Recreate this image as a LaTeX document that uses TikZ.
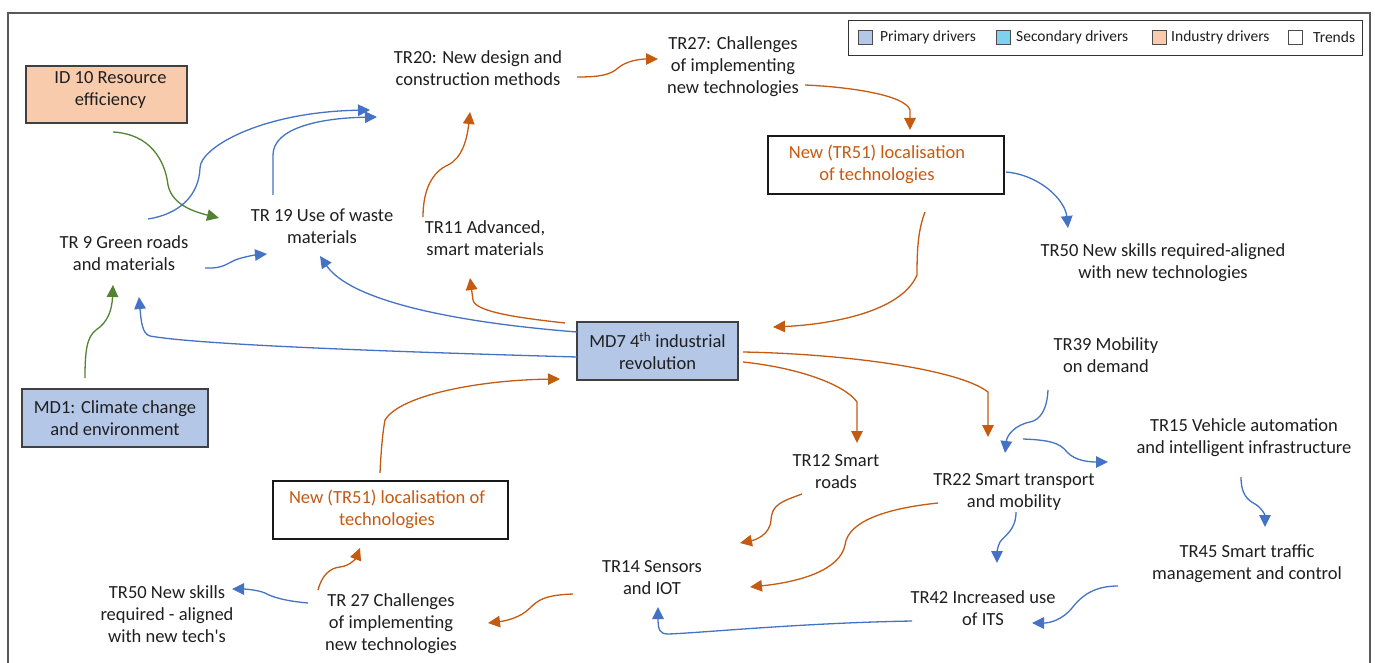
\documentclass[tikz,border=0pt]{standalone}
\usepackage{fontspec}
\setmainfont{Carlito}
\newfontfamily\carl{Carlito}
\usetikzlibrary{arrows.meta,calc}
\definecolor{txt}{HTML}{1F1F1F}
\definecolor{prim}{HTML}{B4C7E7}
\definecolor{secd}{HTML}{7DD3EF}
\definecolor{indu}{HTML}{F8CBAD}
\definecolor{org}{HTML}{C55A11}
\definecolor{blu}{HTML}{4472C4}
\definecolor{grn}{HTML}{548235}
\begin{document}
\begin{tikzpicture}[x=1pt,y=-1pt,
  lbl/.style={font=\carl\fontsize{18.5}{22}\selectfont, text=txt, align=center, inner sep=0pt},
  drvbox/.style={lbl, draw=black!75, line width=1.3pt},
  newbox/.style={lbl, text=org, draw=black!90, line width=2.2pt},
  conn/.style={line width=1.3pt, -{Triangle[length=12pt,width=11.5pt]}},
  oc/.style={conn, draw=org},
  bc/.style={conn, draw=blu},
  gc/.style={conn, draw=grn},
  legsq/.style={draw=black!70, line width=0.8pt, minimum width=14pt, minimum height=14pt, inner sep=0pt},
  legtxt/.style={font=\carl\fontsize{15.5}{18}\selectfont, text=txt, inner sep=0pt, anchor=west},
  frame/.style={draw=black!65, line width=1.4pt}
]
\useasboundingbox (0,0) rectangle (1375,663);
\fill[white] (0,0) rectangle (1375,663);
\draw[frame] (8,663) -- (8,13) -- (1370,13) -- (1370,663);

% legend
\node[draw=black!80, line width=1pt, minimum width=514pt, minimum height=35pt, inner sep=0pt, anchor=north west] (legend) at (848,20) {};
\node[legsq, fill=prim] (lsq1) at (865,37) {};
\node[legtxt] (ltx1) at (880,37) {Primary drivers};
\node[legsq, fill=secd] (lsq2) at (1003,37) {};
\node[legtxt] (ltx2) at (1016,37) {Secondary drivers};
\node[legsq, fill=indu] (lsq3) at (1159,37) {};
\node[legtxt] (ltx3) at (1171,37) {Industry drivers};
\node[legsq, fill=white] (lsq4) at (1295,37) {};
\node[legtxt] (ltx4) at (1313,37) {Trends};

% boxed nodes
\node[drvbox, fill=indu, minimum width=161pt, minimum height=57pt] (id10) at (106.5,94.5) {\hspace*{8pt}\raisebox{4.5pt}[\height][\depth]{\begin{tabular}{@{}c@{}}ID 10 Resource\\efficiency\end{tabular}}};
\node[drvbox, fill=prim, minimum width=186pt, minimum height=58pt] (md1) at (115,418) {MD1: Climate change\\and environment};
\node[drvbox, fill=prim, minimum width=161pt, minimum height=58pt] (md7) at (657.5,351) {MD7 4\textsuperscript{th} industrial\\revolution};
\node[newbox, minimum width=236pt, minimum height=58pt] (tr51a) at (886,165) {\begin{tabular}{@{}c@{}}New (TR51) localisation\\of technologies\end{tabular}\hspace*{18pt}};
\node[newbox, minimum width=235pt, minimum height=58pt] (tr51b) at (390.5,510) {\begin{tabular}{@{}c@{}}New (TR51) localisation of\\technologies\end{tabular}\hspace*{7pt}};

% text nodes
\node[lbl] (tr20) at (478,68) {TR20: New design and\\construction methods};
\node[lbl] (tr27a) at (733,67) {TR27: Challenges\\of implementing\\new technologies};
\node[lbl] (tr50a) at (1163,263) {TR50 New skills required-aligned\\with new technologies};
\node[lbl] (tr9) at (124,253) {TR 9 Green roads\\and materials};
\node[lbl] (tr19) at (322,226) {TR 19 Use of waste\\materials};
\node[lbl] (tr11) at (485,238) {TR11 Advanced,\\smart materials};
\node[lbl] (tr39) at (1106,355) {TR39 Mobility\\on demand};
\node[lbl] (tr15) at (1244,438) {TR15 Vehicle automation\\and intelligent infrastructure};
\node[lbl] (tr12) at (836,472) {TR12 Smart\\roads};
\node[lbl] (tr22) at (1014,492) {TR22 Smart transport\\and mobility};
\node[lbl] (tr14) at (652,578) {TR14 Sensors\\and IOT};
\node[lbl] (tr45) at (1247,564) {TR45 Smart traffic\\management and control};
\node[lbl] (tr42) at (983,608) {TR42 Increased use\\of ITS};
\node[lbl] (tr50b) at (167,614) {TR50 New skills\\required - aligned\\with new tech's};
\node[lbl] (tr27b) at (391,624) {TR 27 Challenges\\of implementing\\new technologies};

% green connectors
\draw[gc] ($(id10)+(6.5,37.5)$) .. controls (150,134) and (165,160) .. (168,185) .. controls (172,205) and (195,212) .. ($(tr19)+(-103,-8)$);
\draw[gc] ($(md1)+(-30,-40)$) .. controls (85,350) and (87,337) .. (96,330) .. controls (108,322) and (112,310) .. ($(tr9)+(-11,32)$);

% blue connectors (left)
\draw[bc] ($(tr9)+(24,-34)$) .. controls (180,214) and (199,195) .. (200,168) .. controls (200,148) and (260,112) .. ($(tr20)+(-108,42)$);
\draw[bc] ($(tr19)+(-49,-31)$) -- (273,155) .. controls (273,128) and (320,118) .. ($(tr20)+(-101,49)$);
\draw[bc] ($(tr9)+(81,15)$) .. controls (225,269) and (228,262) .. (238,259) .. controls (248,256) and (255,255) .. ($(tr19)+(-55,28)$);
\draw[bc] ($(md7)+(-80.5,-19)$) .. controls (450,322) and (350,300) .. ($(tr19)+(-2,30)$);
\draw[bc] ($(md7)+(-80.5,6)$) .. controls (400,352) and (200,345) .. (150,336) .. controls (142,334) and (141,320) .. ($(tr9)+(15,44)$);

% orange connectors
\draw[oc] ($(tr11)+(-62,-21)$) .. controls (423,190) and (432,172) .. (448,165) .. controls (462,158) and (467,140) .. ($(tr20)+(-8,44)$);
\draw[oc] ($(tr20)+(99,9)$) .. controls (600,77) and (610,75) .. (618,68) .. controls (626,61) and (640,59) .. ($(tr27a)+(-75,-8)$);
\draw[oc] ($(tr27a)+(72,18)$) .. controls (850,87) and (905,95) .. (910,110) -- ($(tr51a)+(24,-35)$);
\draw[oc] ($(tr51a)+(39,47)$) .. controls (918,230) and (917,250) .. (917,275) .. controls (900,315) and (820,325) .. ($(md7)+(115.5,-24)$);
\draw[oc] ($(md7)+(-92.5,-28)$) .. controls (520,318) and (475,312) .. (473,300) -- ($(tr11)+(-15,40)$);
\draw[oc] ($(md7)+(85.5,1)$) .. controls (850,354) and (960,370) .. (988,392) -- ($(tr22)+(-26,-55)$);
\draw[oc] ($(md7)+(85.5,11)$) .. controls (800,368) and (845,385) .. (857,402) -- ($(tr12)+(21,-29)$);
\draw[oc] ($(tr51b)+(-10.5,-37)$) .. controls (381,450) and (383,430) .. (385,420) .. controls (400,395) and (480,380) .. ($(md7)+(-97.5,28)$);
\draw[oc] ($(tr27b)+(-73,-34)$) .. controls (322,575) and (330,568) .. (340,567) .. controls (350,566) and (356,558) .. ($(tr51b)+(-30.5,38)$);
\draw[oc] ($(tr14)+(-79,16)$) .. controls (545,595) and (538,600) .. (530,608) .. controls (520,618) and (505,621) .. ($(tr27b)+(97,-1)$);
\draw[oc] ($(tr12)+(-34,22)$) .. controls (780,502) and (772,505) .. (771,520) .. controls (770,535) and (755,540) .. ($(tr14)+(88,-35)$);
\draw[oc] ($(tr22)+(-76,11)$) .. controls (890,508) and (848,520) .. (845,545) .. controls (840,570) and (800,582) .. ($(tr14)+(98,9)$);

% blue connectors (right / bottom)
\draw[bc] ($(tr27b)+(-83,-21)$) .. controls (285,601) and (272,597) .. (265,593) .. controls (258,590) and (245,589) .. ($(tr50b)+(65,-25)$);
\draw[bc] ($(tr39)+(-58,35)$) .. controls (1047,410) and (1040,420) .. (1030,422) .. controls (1015,425) and (1007,435) .. ($(tr22)+(-9,-39)$);
\draw[bc] ($(tr22)+(9,-53)$) .. controls (1050,440) and (1060,443) .. (1067,452) .. controls (1075,461) and (1090,462) .. ($(tr15)+(-136,24)$);
\draw[bc] ($(tr15)+(-3,39)$) .. controls (1241,495) and (1248,500) .. (1255,504) .. controls (1262,508) and (1265,515) .. ($(tr45)+(18,-37)$);
\draw[bc] ($(tr22)+(2,20)$) .. controls (1016,530) and (1005,535) .. (1000,542) .. controls (997,548) and (997,553) .. ($(tr42)+(14,-45)$);
\draw[bc] ($(tr45)+(-129,22)$) .. controls (1095,586) and (1082,595) .. (1072,608) .. controls (1062,620) and (1050,623) .. ($(tr42)+(49,15)$);
\draw[bc] ($(tr42)+(-71,13)$) .. controls (800,623) and (700,633) .. (668,634) .. controls (660,634) and (658,630) .. ($(tr14)+(6,29)$);
\draw[bc] ($(tr51a)+(120,7)$) .. controls (1040,175) and (1065,200) .. ($(tr50a)+(-95,-35)$);
\end{tikzpicture}
\end{document}
